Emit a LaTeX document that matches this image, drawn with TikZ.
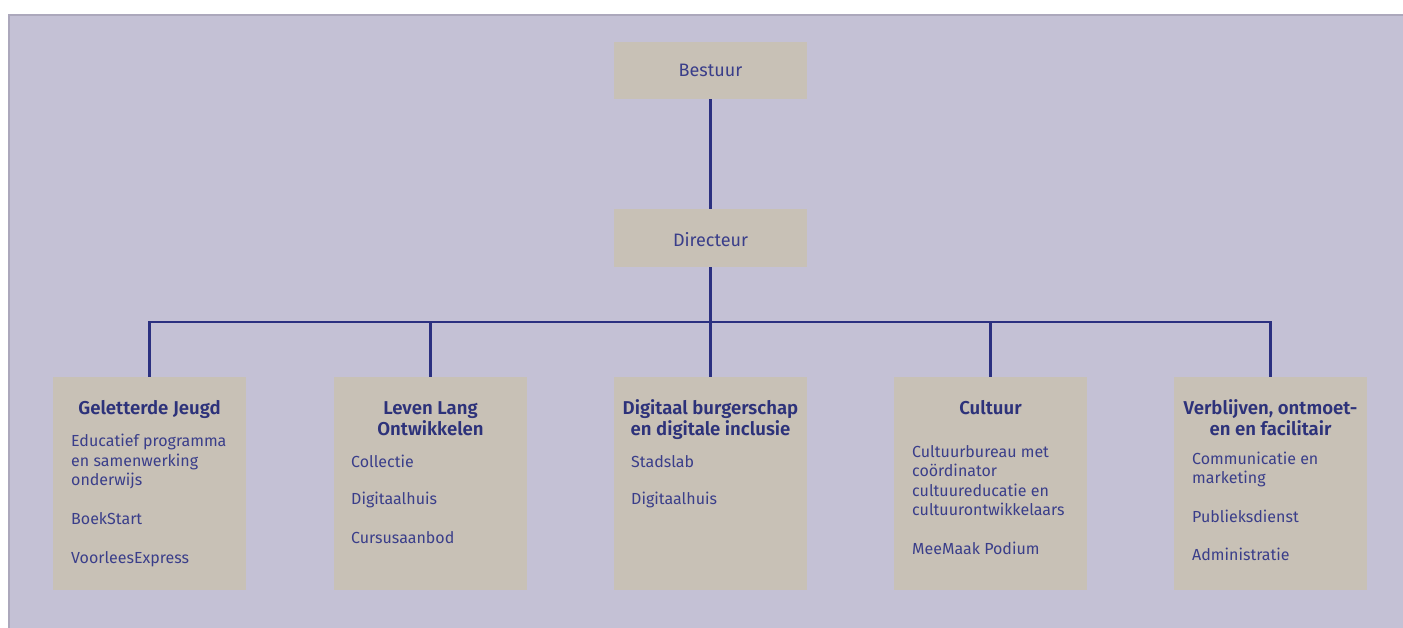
\documentclass[tikz,border=0pt]{standalone}
\usepackage{fontspec}
\setmainfont{Fira Sans}[BoldFont={Fira Sans SemiBold}]
\definecolor{bgc}{RGB}{196,193,213}
\definecolor{boxc}{RGB}{200,193,182}
\definecolor{linec}{RGB}{43,48,128}
\definecolor{txtc}{RGB}{58,62,138}
\definecolor{ttlc}{RGB}{45,50,122}
\definecolor{brdc}{RGB}{172,168,188}
\begin{document}
\begin{tikzpicture}[x=1pt,y=-1pt,
  box/.style={fill=boxc,draw=none,inner sep=0pt,minimum width=193pt},
  body/.style={inner sep=0pt,anchor=base west,text=txtc,font=\fontsize{16}{19}\selectfont},
  head/.style={inner sep=0pt,anchor=base,text=txtc,font=\fontsize{18}{21}\selectfont},
  ttl/.style={inner sep=0pt,anchor=base,text=ttlc,font=\fontsize{18.6}{21}\selectfont\bfseries},
  conn/.style={draw=linec,line width=2.4pt}]
\useasboundingbox (0,0) rectangle (1403,628);
\fill[bgc] (8,14) rectangle (1403,628);
\draw[brdc,line width=2pt] (9,628) -- (9,15) -- (1403,15);
% top boxes
\node[box,minimum height=57pt] (bestuur) at (710.5,70.5) {};
\node[box,minimum height=58pt] (directeur) at (710.5,238) {};
\node[head] (bestuurt) at (710.5,77) {Bestuur};
\node[head] (directeurt) at (710.5,247) {Directeur};
% lower boxes
\foreach \cx/\nm in {149.5/g1,430.5/g2,710.5/g3,990.5/g4,1270.5/g5}
  \node[box,minimum height=213pt] (\nm) at (\cx,483.5) {};
% connectors
\coordinate (bus) at (710.5,322);
\draw[conn] (bestuur.south) -- (directeur.north);
\draw[conn] (directeur.south) -- (bus);
\draw[conn] (g1.north) |- (bus);
\draw[conn] (g2.north) |- (bus);
\draw[conn] (g3.north) -- (bus);
\draw[conn] (g4.north) |- (bus);
\draw[conn] (g5.north) |- (bus);
% titles
\foreach \x/\y/\t [count=\n] in {149.5/414/Geletterde Jeugd,
  430.5/414/Leven Lang, 430.5/435/Ontwikkelen,
  710.5/414/Digitaal burgerschap, 710.5/435/en digitale inclusie,
  990.5/414/Cultuur,
  1270.5/414/{Verblijven, ontmoet-}, 1270.5/435/en en facilitair}
  \node[ttl] (ttl\n) at (\x,\y) {\t};
% body text
\foreach \x/\y/\t [count=\n] in {71/446/Educatief programma, 71/466/en samenwerking, 71/485/onderwijs, 71/524/BoekStart, 71/563/VoorleesExpress,
  351/467/Collectie, 351/504/Digitaalhuis, 351/543/Cursusaanbod,
  631/467/Stadslab, 631/504/Digitaalhuis,
  912/457/Cultuurbureau met, 912/476/coördinator, 912/496/cultuureducatie en, 912/515/cultuurontwikkelaars, 912/554/MeeMaak Podium,
  1192/464/Communicatie en, 1192/483/marketing, 1192/522/Publieksdienst, 1192/560/Administratie}
  \node[body] (txt\n) at (\x,\y) {\t};
\end{tikzpicture}
\end{document}
